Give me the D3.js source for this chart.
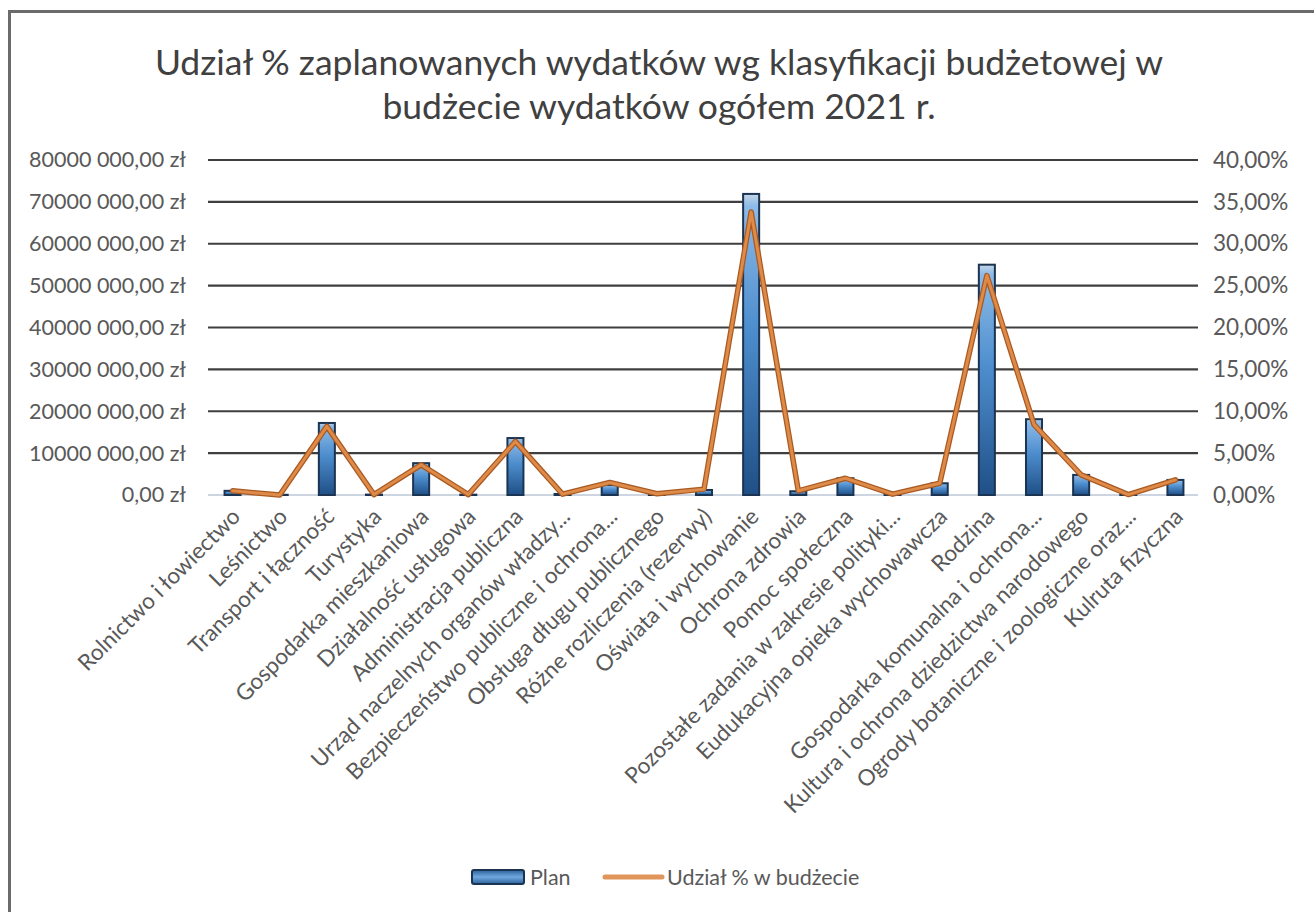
<!DOCTYPE html>
<html>
<head>
<meta charset="utf-8">
<script src="https://cdn.jsdelivr.net/npm/d3@7"></script>
<style>
  html, body { margin: 0; padding: 0; background: #fff; }
  svg text { font-family: Lato, "Open Sans", sans-serif; }
</style>
</head>
<body>
<svg id="chart" width="1314" height="912"></svg>
<script>
const titleLines = [
  "Udział % zaplanowanych wydatków wg klasyfikacji budżetowej w",
  "budżecie wydatków ogółem 2021 r."
];

const categories = [
  "Rolnictwo i łowiectwo",
  "Leśnictwo",
  "Transport i łączność",
  "Turystyka",
  "Gospodarka mieszkaniowa",
  "Działalność usługowa",
  "Administracja publiczna",
  "Urząd naczelnych organów władzy...",
  "Bezpieczeństwo publiczne i ochrona...",
  "Obsługa długu publicznego",
  "Różne rozliczenia (rezerwy)",
  "Oświata i wychowanie",
  "Ochrona zdrowia",
  "Pomoc społeczna",
  "Pozostałe zadania w zakresie polityki...",
  "Eudukacyjna opieka wychowawcza",
  "Rodzina",
  "Gospodarka komunalna i ochrona...",
  "Kultura i ochrona dziedzictwa narodowego",
  "Ogrody botaniczne i zoologiczne oraz...",
  "Kulruta fizyczna"
];

// Plan (zł)
const planValues = [
  1000000, 50000, 17200000, 100000, 7600000, 80000, 13600000, 250000,
  2400000, 300000, 1200000, 71900000, 900000, 4000000, 200000, 2800000,
  55000000, 18100000, 4800000, 50000, 3600000
];

// Udział % w budżecie
const shareValues = [
  0.5, 0.0, 8.2, 0.05, 3.6, 0.05, 6.4, 0.1,
  1.5, 0.15, 0.7, 33.8, 0.5, 2.0, 0.1, 1.4,
  26.2, 8.4, 2.4, 0.05, 1.8
];

const leftTicks = [0, 10e6, 20e6, 30e6, 40e6, 50e6, 60e6, 70e6, 80e6];
const rightTicks = [0, 5, 10, 15, 20, 25, 30, 35, 40];
const legendLabels = ["Plan", "Udział % w budżecie"];

const width = 1314, height = 912;
const plot = { left: 209, right: 1199, top: 160, bottom: 495 };

const svg = d3.select("#chart");

svg.append("rect").attr("width", width).attr("height", height).attr("fill", "#fff");

// frame (only left and top edges are visible in the picture)
svg.append("path")
  .attr("d", `M9.5,${height} L9.5,11.5 L${width},11.5`)
  .attr("fill", "none")
  .attr("stroke", "#6b6b6b")
  .attr("stroke-width", 3);

const defs = svg.append("defs");
const grad = defs.append("linearGradient")
  .attr("id", "barGrad").attr("x1", 0).attr("y1", 0).attr("x2", 0).attr("y2", 1);
grad.append("stop").attr("offset", "0%").attr("stop-color", "#c7d6e6");
grad.append("stop").attr("offset", "4%").attr("stop-color", "#8dbbe8");
grad.append("stop").attr("offset", "45%").attr("stop-color", "#4d8dcd");
grad.append("stop").attr("offset", "100%").attr("stop-color", "#1f4f86");

const legGrad = defs.append("linearGradient")
  .attr("id", "legGrad").attr("x1", 0).attr("y1", 0).attr("x2", 0).attr("y2", 1);
legGrad.append("stop").attr("offset", "0%").attr("stop-color", "#2c5f98");
legGrad.append("stop").attr("offset", "50%").attr("stop-color", "#6fa9df");
legGrad.append("stop").attr("offset", "100%").attr("stop-color", "#2c5f98");

// title
svg.append("g").selectAll("text")
  .data(titleLines)
  .join("text")
  .attr("x", 659)
  .attr("y", function(d, i) { return 75 + i * 44; })
  .attr("text-anchor", "middle")
  .attr("font-size", 35.5)
  .attr("fill", "#404040")
  .text(function(d) { return d; });

const x = d3.scaleBand()
  .domain(categories)
  .range([plot.left, plot.right])
  .paddingInner(0.66)
  .paddingOuter(0.33);

const yLeft = d3.scaleLinear().domain([0, 80e6]).range([plot.bottom, plot.top]);
const yRight = d3.scaleLinear().domain([0, 40]).range([plot.bottom, plot.top]);

function fmtZl(v) {
  if (v === 0) return "0,00 zł";
  const th = Math.floor(v / 1000);
  const rest = String(v % 1000).padStart(3, "0");
  return th + " " + rest + ",00 zł";
}
function fmtPct(v) {
  return d3.format(".2f")(v).replace(".", ",") + "%";
}

// gridlines
svg.append("g").selectAll("line")
  .data(leftTicks.filter(function(d) { return d > 0; }))
  .join("line")
  .attr("x1", plot.left - 1).attr("x2", plot.right - 1)
  .attr("y1", function(d) { return yLeft(d); })
  .attr("y2", function(d) { return yLeft(d); })
  .attr("stroke", "#3f3f3f")
  .attr("stroke-width", 2.2);

svg.append("line")
  .attr("x1", plot.left - 1).attr("x2", plot.right - 1)
  .attr("y1", yLeft(0)).attr("y2", yLeft(0))
  .attr("stroke", "#cdd6e0")
  .attr("stroke-width", 2);

// left axis
const axL = svg.append("g")
  .attr("transform", `translate(${plot.left - 23},0)`)
  .call(d3.axisLeft(yLeft).tickValues(leftTicks).tickFormat(fmtZl).tickSize(0).tickPadding(0));
axL.select(".domain").remove();
axL.selectAll("text")
  .attr("font-size", 21.5)
  .attr("fill", "#595959")
  .attr("font-family", "Lato, 'Open Sans', sans-serif");

// right axis
const axR = svg.append("g")
  .attr("transform", `translate(${plot.right + 14},0)`)
  .call(d3.axisRight(yRight).tickValues(rightTicks).tickFormat(fmtPct).tickSize(0).tickPadding(0));
axR.select(".domain").remove();
axR.selectAll("text")
  .attr("font-size", 22.5)
  .attr("fill", "#595959")
  .attr("font-family", "Lato, 'Open Sans', sans-serif");

// category labels
svg.append("g").selectAll("text")
  .data(categories)
  .join("text")
  .attr("transform", function(d) {
    const cx = x(d) + x.bandwidth() / 2;
    return `translate(${cx + 9},${518}) rotate(-45)`;
  })
  .attr("text-anchor", "end")
  .attr("font-size", 22.5)
  .attr("fill", "#595959")
  .text(function(d) { return d; });

// bars
svg.append("g").selectAll("rect")
  .data(planValues)
  .join("rect")
  .attr("x", function(d, i) { return x(categories[i]); })
  .attr("width", x.bandwidth())
  .attr("y", function(d) { return yLeft(d); })
  .attr("height", function(d) { return yLeft(0) - yLeft(d); })
  .attr("fill", "url(#barGrad)")
  .attr("stroke", "#1b3452")
  .attr("stroke-width", 2);

// share line
const line = d3.line()
  .x(function(d, i) { return x(categories[i]) + x.bandwidth() / 2; })
  .y(function(d) { return yRight(d); });

svg.append("path")
  .datum(shareValues)
  .attr("d", line)
  .attr("fill", "none")
  .attr("stroke", "#a95a22")
  .attr("stroke-width", 5.5)
  .attr("stroke-linejoin", "round")
  .attr("stroke-linecap", "round");
svg.append("path")
  .datum(shareValues)
  .attr("d", line)
  .attr("fill", "none")
  .attr("stroke", "#de8a48")
  .attr("stroke-width", 3)
  .attr("stroke-linejoin", "round")
  .attr("stroke-linecap", "round");

// legend
const leg = svg.append("g");
leg.append("rect")
  .attr("x", 472).attr("y", 870).attr("width", 52).attr("height", 14)
  .attr("rx", 2)
  .attr("fill", "url(#legGrad)")
  .attr("stroke", "#1b3452").attr("stroke-width", 2);
leg.append("text")
  .attr("x", 530).attr("y", 885)
  .attr("font-size", 21.5).attr("fill", "#595959")
  .text(legendLabels[0]);
leg.append("line")
  .attr("x1", 605).attr("x2", 662).attr("y1", 877).attr("y2", 877)
  .attr("stroke", "#e0965a").attr("stroke-width", 5).attr("stroke-linecap", "round");
leg.append("text")
  .attr("x", 667).attr("y", 885)
  .attr("font-size", 21.5).attr("fill", "#595959")
  .text(legendLabels[1]);
</script>
</body>
</html>
